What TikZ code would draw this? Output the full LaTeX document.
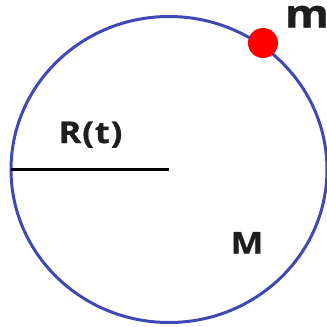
\documentclass[tikz,border=0pt]{standalone}
\usepackage{fontspec}
\setmainfont{Open Sans}[FakeStretch=1.15]
\usepackage{tikz}
\usetikzlibrary{positioning}
\definecolor{orbitblue}{RGB}{63,73,181}
\definecolor{labelgray}{RGB}{30,30,30}

\begin{document}
\begin{tikzpicture}[
  x=1pt, y=-1pt,
  orbit/.style={draw=orbitblue, line width=3pt},
  radius/.style={draw=black, line width=3pt},
  mass/.style={circle, fill=red, inner sep=0pt, minimum size=30pt},
  lbl/.style={text=labelgray, font=\bfseries\fontsize{30}{32}\selectfont\addfontfeature{FakeBold=0.8}, inner sep=0pt}
]
\useasboundingbox (0,0) rectangle (327,327);
\coordinate (c) at (169,169.5);
\draw[orbit] (c) ellipse [x radius=158, y radius=153];
\coordinate (rim) at (11,169.5);
\draw[radius] (rim) -- (c);
\node[mass] (m) at (263,43) {};
\node[lbl, font=\bfseries\fontsize{39}{41}\selectfont\addfontfeature{FakeBold=0.8}, anchor=base] (mlabel) at (307,27.5) {m};
\node[lbl, anchor=base] (rlabel) at (90.5,143) {\addfontfeature{LetterSpace=3}R(t)};
\node[lbl, anchor=base] (Mlabel) at (247,253.5) {M};
\end{tikzpicture}
\end{document}
